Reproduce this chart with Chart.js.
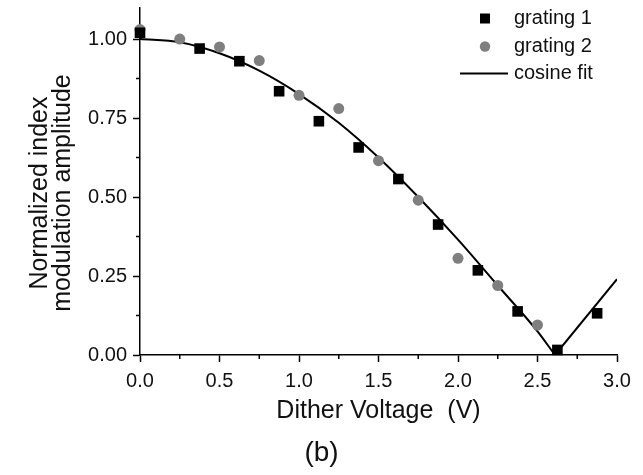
<!DOCTYPE html>
<html>
<head>
<meta charset="utf-8">
<script src="https://cdn.jsdelivr.net/npm/chart.js@4/dist/chart.umd.min.js"></script>
<style>
  html, body { margin: 0; padding: 0; background: #fff; }
  canvas { display: block; }
</style>
</head>
<body>
<canvas id="chart" width="643" height="475"></canvas>
<script>
// grating 1 (black squares)
const voltage1 = [0, 0.375, 0.625, 0.875, 1.125, 1.375, 1.625, 1.875, 2.125, 2.375, 2.625, 2.875];
const grating1 = [1.02, 0.97, 0.93, 0.835, 0.74, 0.657, 0.557, 0.413, 0.268, 0.138, 0.016, 0.132];

// grating 2 (grey circles)
const voltage2 = [0, 0.25, 0.5, 0.75, 1.0, 1.25, 1.5, 1.75, 2.0, 2.25, 2.5];
const grating2 = [1.03, 1.0, 0.975, 0.932, 0.822, 0.78, 0.615, 0.49, 0.306, 0.22, 0.095];

// cosine fit (falling branch, then the rising branch)
const fitVoltage = [0, 0.25, 0.5, 0.75, 1.0, 1.25, 1.5, 1.75, 2.0, 2.25, 2.5, 2.61];
const fitAmplitude = [1.0, 0.99, 0.955, 0.9, 0.826, 0.735, 0.625, 0.5, 0.365, 0.22, 0.075, 0.0];
const fitVoltage2 = [2.61, 3.0];
const fitAmplitude2 = [0.0, 0.24];

// axis ticks
const xTicks = [0, 0.5, 1.0, 1.5, 2.0, 2.5, 3.0];
const xMinorTicks = [0.25, 0.75, 1.25, 1.75, 2.25, 2.75];
const yTicks = [0, 0.25, 0.5, 0.75, 1.0];
const yMinorTicks = [0.125, 0.375, 0.625, 0.875];

const yTitle = ['Normalized index', 'modulation amplitude'];

const FONT = "'Liberation Sans', Arial, sans-serif";
const GREY = '#7f7f7f';

function points(xs, ys) {
    return xs.map((x, i) => ({ x: x, y: ys[i] }));
}

// Minor ticks (Chart.js has no minor ticks of its own)
const minorTicks = {
    id: 'minorTicks',
    afterDraw(chart) {
        const ctx = chart.ctx;
        const xs = chart.scales.x;
        const ys = chart.scales.y;
        const area = chart.chartArea;
        ctx.save();
        ctx.strokeStyle = '#000';
        ctx.lineWidth = 1.5;
        ctx.beginPath();
        xMinorTicks.forEach(v => {
            const px = xs.getPixelForValue(v);
            ctx.moveTo(px, area.bottom);
            ctx.lineTo(px, area.bottom + 4);
        });
        yMinorTicks.forEach(v => {
            const py = ys.getPixelForValue(v);
            ctx.moveTo(area.left, py);
            ctx.lineTo(area.left - 4, py);
        });
        ctx.stroke();
        ctx.restore();
    }
};

// Two-line y title, centred on the 0..1 span rather than the whole axis
const yAxisTitle = {
    id: 'yAxisTitle',
    afterDraw(chart) {
        const ctx = chart.ctx;
        const ys = chart.scales.y;
        const area = chart.chartArea;
        const cy = (ys.getPixelForValue(0) + ys.getPixelForValue(1)) / 2 - 4;
        ctx.save();
        ctx.translate(area.left - 100, cy);
        ctx.rotate(-Math.PI / 2);
        ctx.fillStyle = '#111';
        ctx.font = '25px ' + FONT;
        ctx.textAlign = 'center';
        ctx.textBaseline = 'middle';
        ctx.fillText(yTitle[0], 0, 0);
        ctx.fillText(yTitle[1], 0, 23);
        ctx.restore();
    }
};

// Legend inside the plot, top right
const insideLegend = {
    id: 'insideLegend',
    afterDatasetsDraw(chart) {
        const ctx = chart.ctx;
        const area = chart.chartArea;
        const symX = area.right - 132;
        const textX = area.right - 103;
        const rows = [area.top + 11, area.top + 39, area.top + 66];
        ctx.save();
        // grating 1
        ctx.fillStyle = '#000';
        ctx.fillRect(symX - 5, rows[0] - 5, 10, 10);
        // grating 2
        ctx.fillStyle = GREY;
        ctx.beginPath();
        ctx.arc(symX, rows[1], 5.2, 0, Math.PI * 2);
        ctx.fill();
        // cosine fit
        ctx.strokeStyle = '#000';
        ctx.lineWidth = 2;
        ctx.beginPath();
        ctx.moveTo(symX - 25, rows[2]);
        ctx.lineTo(symX + 23, rows[2]);
        ctx.stroke();
        // labels
        ctx.fillStyle = '#111';
        ctx.font = '20px ' + FONT;
        ctx.textBaseline = 'middle';
        ctx.textAlign = 'left';
        ctx.fillText('grating 1', textX, rows[0]);
        ctx.fillText('grating 2', textX, rows[1]);
        ctx.fillText('cosine fit', textX, rows[2]);
        ctx.restore();
    }
};

const ctx = document.getElementById('chart').getContext('2d');
new Chart(ctx, {
    type: 'scatter',
    data: {
        datasets: [
            {
                label: 'grating 1',
                data: points(voltage1, grating1),
                pointStyle: 'rect',
                pointRadius: 7.5,
                backgroundColor: '#000',
                borderColor: '#000',
                borderWidth: 0,
                clip: false
            },
            {
                label: 'grating 2',
                data: points(voltage2, grating2),
                pointStyle: 'circle',
                pointRadius: 5.5,
                backgroundColor: GREY,
                borderColor: GREY,
                borderWidth: 0,
                clip: false
            },
            {
                label: 'cosine fit',
                data: points(fitVoltage, fitAmplitude),
                showLine: true,
                pointRadius: 0,
                borderColor: '#000',
                borderWidth: 2,
                cubicInterpolationMode: 'monotone'
            },
            {
                label: 'cosine fit',
                data: points(fitVoltage2, fitAmplitude2),
                showLine: true,
                pointRadius: 0,
                borderColor: '#000',
                borderWidth: 2
            }
        ]
    },
    options: {
        responsive: false,
        animation: false,
        events: [],
        layout: { padding: { left: 0, right: 0, top: 6, bottom: 0 } },
        plugins: {
            legend: { display: false },
            tooltip: { enabled: false },
            title: {
                display: true,
                position: 'bottom',
                text: '(b)',
                color: '#111',
                font: { family: FONT, size: 28, weight: 'normal', lineHeight: 1.2 },
                padding: { top: 1, bottom: 5.4 }
            }
        },
        scales: {
            x: {
                type: 'linear',
                min: 0,
                max: 3.0,
                afterBuildTicks: scale => { scale.ticks = xTicks.map(v => ({ value: v })); },
                afterFit: scale => {
                    scale.height = 80;
                    scale.paddingLeft = 0;
                    scale.paddingRight = 26;
                },
                grid: {
                    drawOnChartArea: false,
                    tickLength: 7,
                    tickWidth: 1.5,
                    tickColor: '#000'
                },
                border: { color: '#000', width: 1.5 },
                ticks: {
                    color: '#111',
                    padding: 7,
                    maxRotation: 0,
                    font: { family: FONT, size: 20 },
                    callback: v => v.toFixed(1)
                },
                title: {
                    display: true,
                    text: 'Dither Voltage  (V)',
                    color: '#111',
                    font: { family: FONT, size: 25, lineHeight: 1.0 },
                    padding: { top: 0, bottom: 11 }
                }
            },
            y: {
                type: 'linear',
                min: 0,
                max: 1.1,
                afterBuildTicks: scale => { scale.ticks = yTicks.map(v => ({ value: v })); },
                afterFit: scale => {
                    scale.width = 140;
                    scale.paddingTop = 0;
                    scale.paddingBottom = 0;
                },
                grid: {
                    drawOnChartArea: false,
                    tickLength: 7,
                    tickWidth: 1.5,
                    tickColor: '#000'
                },
                border: { color: '#000', width: 1.5 },
                ticks: {
                    color: '#111',
                    padding: 6,
                    font: { family: FONT, size: 20 },
                    callback: v => v.toFixed(2)
                },
                title: { display: false }
            }
        }
    },
    plugins: [minorTicks, yAxisTitle, insideLegend]
});
</script>
</body>
</html>
